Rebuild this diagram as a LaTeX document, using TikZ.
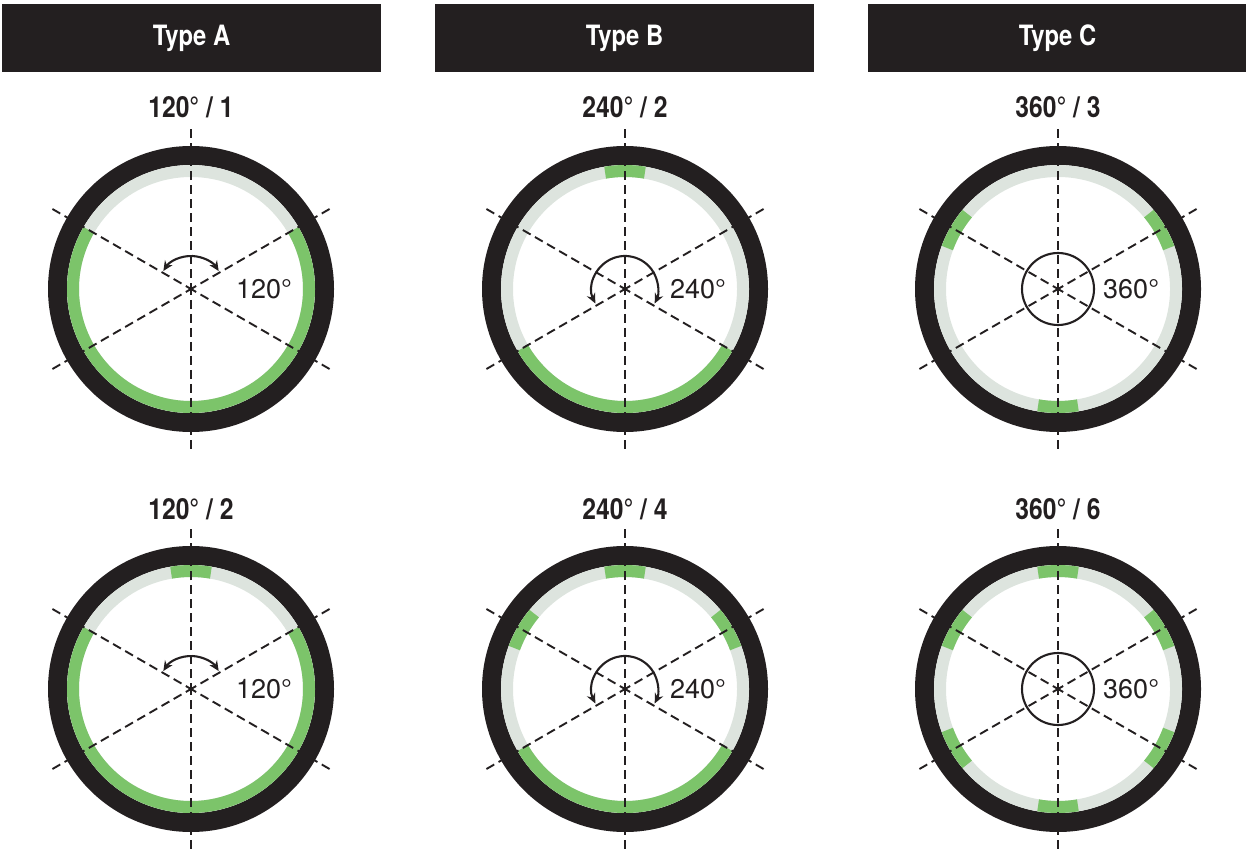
\documentclass[tikz,border=0pt]{standalone}
\usepackage{fontspec}
\setmainfont{TeX Gyre Heros}
\newfontfamily\condfont[FakeStretch=0.85]{TeX Gyre Heros}
\usetikzlibrary{arrows.meta}
\definecolor{ringblack}{RGB}{35,31,32}
\definecolor{bandgrey}{RGB}{221,228,222}
\definecolor{ledgreen}{RGB}{124,196,106}
\tikzset{
  typehead/.style={fill=ringblack, text=white, minimum width=379pt, minimum height=68pt, inner sep=0pt,
    font=\condfont\bfseries\fontsize{28}{32}\selectfont},
  wheeltitle/.style={text=ringblack, inner sep=0pt, font=\condfont\bfseries\fontsize{29}{33}\selectfont},
  innertext/.style={text=ringblack, inner sep=0pt, anchor=west, font=\fontsize{27}{31}\selectfont},
  ringline/.style={draw=ringblack, line width=19pt},
  bandline/.style={draw=bandgrey, line width=12pt},
  greenline/.style={draw=ledgreen, line width=12pt},
  dashline/.style={draw=ringblack, line width=1.9pt, dash pattern=on 9pt off 5pt, dash phase=3pt},
  indic/.style={draw=ringblack, line width=2.1pt},
  tips/.style={{Stealth[length=10pt,width=9pt]}-{Stealth[length=10pt,width=9pt]}}
}
\newcommand\wheelbase[1]{%
  \draw[ringline] (#1) circle[radius=133.5];
  \draw[bandline] (#1) circle[radius=118];}
\newcommand\greenarc[3]{%
  \draw[greenline] ([shift={(#1)}]{#2}:118) arc[start angle={#2}, end angle={#3}, radius=118];}
\newcommand\greenblock[2]{\greenarc{#1}{#2-9.7}{#2+9.7}}
\newcommand\crosslines[1]{%
  \foreach \a in {30,90,150,210,270,330} {\draw[dashline] (#1) -- ++(\a:164);}}
\begin{document}
\begin{tikzpicture}[x=1pt,y=1pt]
\useasboundingbox (0,0) rectangle (1246,855);
% headers
\node[typehead] (hA) at (191.5,817) {Type A};
\node[typehead] (hB) at (624.5,817) {Type B};
\node[typehead] (hC) at (1057.5,817) {Type C};
% centers
\coordinate (A1) at (191,566);
\coordinate (B1) at (625,566);
\coordinate (C1) at (1058,566);
\coordinate (A2) at (191,166);
\coordinate (B2) at (625,166);
\coordinate (C2) at (1058,166);
% rings
\foreach \w in {A1,B1,C1,A2,B2,C2} {\wheelbase{\w}}
% green segments
\greenarc{A1}{150}{390}
\greenarc{A2}{150}{390}
\greenblock{A2}{90}
\greenblock{B1}{90}
\greenarc{B1}{210}{330}
\greenblock{B2}{90}
\greenblock{B2}{30}
\greenblock{B2}{150}
\greenarc{B2}{210}{330}
\greenblock{C1}{30}
\greenblock{C1}{150}
\greenblock{C1}{270}
\foreach \g in {30,90,150,210,270,330} {\greenblock{C2}{\g}}
% dashed lines
\foreach \w in {A1,B1,C1,A2,B2,C2} {\crosslines{\w}}
% angle indicators
\draw[indic,tips] ([shift={(A1)}]147:33) arc[start angle=147, end angle=33, radius=33];
\draw[indic,tips] ([shift={(A2)}]147:33) arc[start angle=147, end angle=33, radius=33];
\draw[indic,tips] ([shift={(B1)}]206:33) arc[start angle=206, end angle=-26, radius=33];
\draw[indic,tips] ([shift={(B2)}]206:33) arc[start angle=206, end angle=-26, radius=33];
\draw[indic] (C1) circle[radius=36];
\draw[indic] (C2) circle[radius=36];
% inner texts
\node[innertext] (tA1) at ([xshift=45pt]A1) {120°};
\node[innertext] (tA2) at ([xshift=45pt]A2) {120°};
\node[innertext] (tB1) at ([xshift=45pt]B1) {240°};
\node[innertext] (tB2) at ([xshift=45pt]B2) {240°};
\node[innertext] (tC1) at ([xshift=45pt]C1) {360°};
\node[innertext] (tC2) at ([xshift=45pt]C2) {360°};
% titles
\node[wheeltitle] (wA1) at (191,748) {120° / 1};
\node[wheeltitle] (wB1) at (625,748) {240° / 2};
\node[wheeltitle] (wC1) at (1058,748) {360° / 3};
\node[wheeltitle] (wA2) at (191,346) {120° / 2};
\node[wheeltitle] (wB2) at (625,346) {240° / 4};
\node[wheeltitle] (wC2) at (1058,346) {360° / 6};
\end{tikzpicture}
\end{document}
